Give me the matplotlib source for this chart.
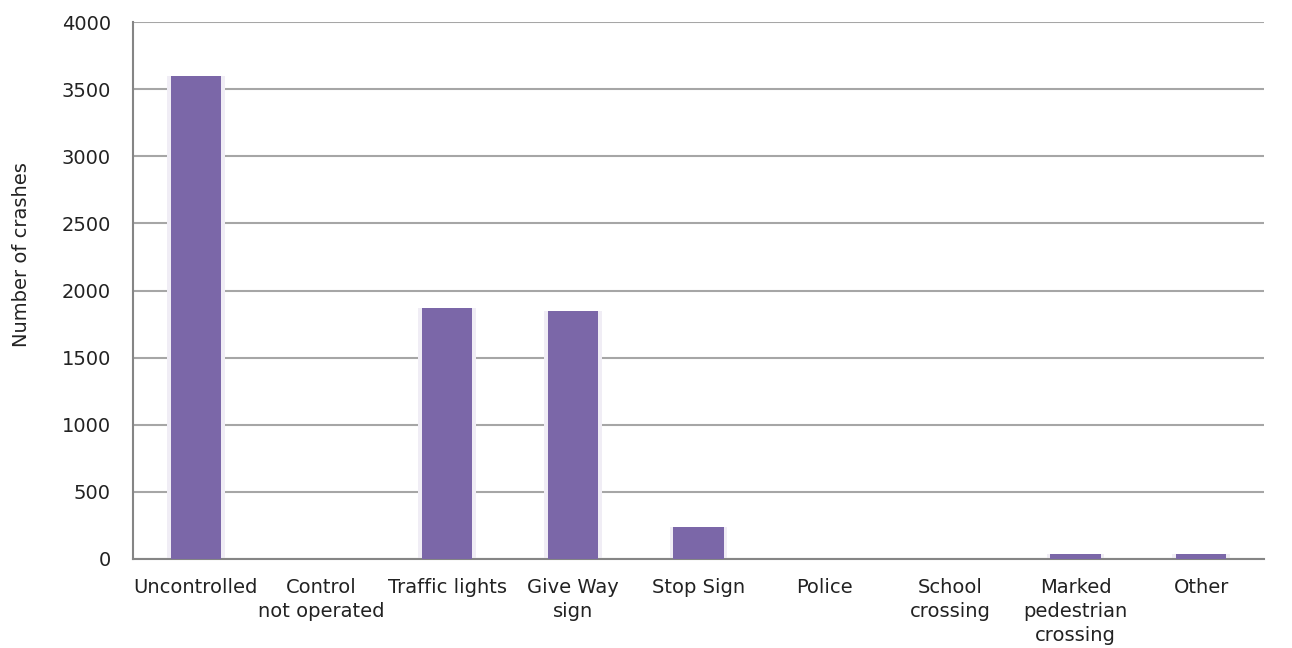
import matplotlib
matplotlib.use("Agg")
import matplotlib.pyplot as plt
import numpy as np

categories = ["Uncontrolled", "Control\nnot operated", "Traffic lights", "Give Way\nsign",
              "Stop Sign", "Police", "School\ncrossing", "Marked\npedestrian\ncrossing", "Other"]
crashes = [3600, 2, 1870, 1850, 240, 2, 2, 35, 35]
yticks = [0, 500, 1000, 1500, 2000, 2500, 3000, 3500, 4000]

plt.rcParams['font.family'] = ['DejaVu Sans']

fig = plt.figure(figsize=(12.92, 6.48), dpi=100)
ax = fig.add_axes([133/1292, 1 - 559/648, (1264-133)/1292, (559-22)/648])

x = np.arange(len(categories))
# faint glow behind bars
ax.bar(x, crashes, width=0.46, color="#f0edf5", zorder=2)
ax.bar(x, crashes, width=0.40, color="#7B67A8", zorder=3)

ax.set_xlim(-0.5, len(categories) - 0.5)
ax.set_ylim(0, 4000)
ax.set_yticks(yticks)
ax.set_yticklabels([str(v) for v in yticks], fontsize=14, color="#222222")
ax.set_xticks(x)
ax.set_xticklabels(categories, fontsize=14, color="#222222", linespacing=1.32)
ax.tick_params(axis='both', length=0)
ax.tick_params(axis='x', pad=14)
ax.tick_params(axis='y', pad=16)

ax.yaxis.grid(True, color="#a6a6a6", linewidth=1.5, zorder=1)
ax.set_axisbelow(True)
for s in ["top", "right"]:
    ax.spines[s].set_visible(False)
for s in ["left", "bottom"]:
    ax.spines[s].set_color("#858585")
    ax.spines[s].set_linewidth(1.5)

ax.set_ylabel("Number of crashes", fontsize=14, color="#222222")
ax.yaxis.set_label_coords(-0.09, 0.566)

fig.savefig("out.png", dpi=100)
